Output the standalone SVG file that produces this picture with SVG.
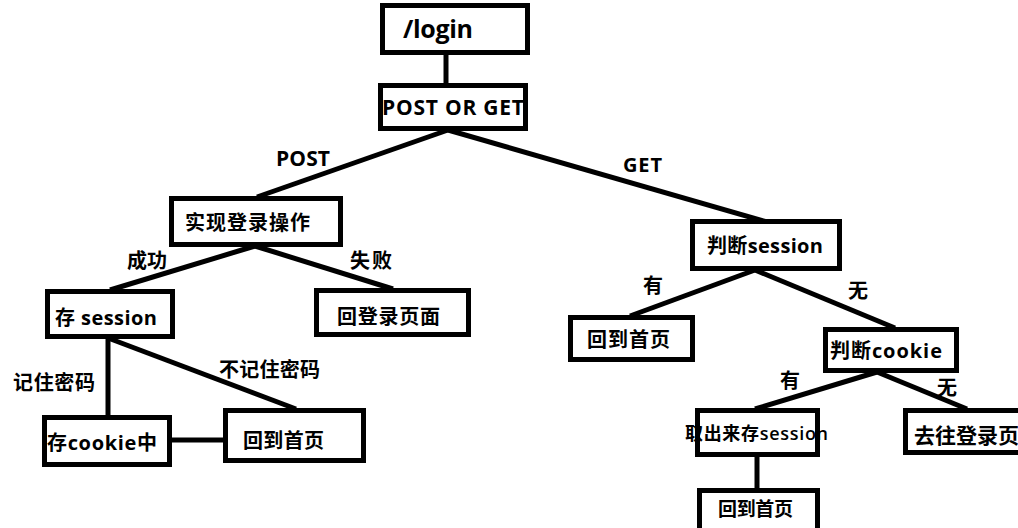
<svg xmlns="http://www.w3.org/2000/svg" width="1018" height="528" viewBox="0 0 1018 528">
<style>
.box{fill:#fff;stroke:#000;stroke-width:5}
.ln{stroke:#000;stroke-width:5;fill:none}
text{font-family:"Open Sans","Noto Sans CJK SC",sans-serif;font-weight:bold;font-size:20px;fill:#000}
.thin{font-weight:600;font-size:18px}
</style>
<rect width="1018" height="528" fill="#fff"/>
<g id="connectors">
<line class="ln" x1="446" y1="54" x2="446" y2="84"/>
<line class="ln" x1="448" y1="130" x2="257" y2="197"/>
<line class="ln" x1="448" y1="130" x2="767" y2="222"/>
<line class="ln" x1="255" y1="246" x2="110" y2="290"/>
<line class="ln" x1="255" y1="246" x2="393" y2="289"/>
<line class="ln" x1="108" y1="338" x2="108" y2="416"/>
<line class="ln" x1="108" y1="338" x2="296" y2="409"/>
<line class="ln" x1="171" y1="440" x2="224" y2="440"/>
<line class="ln" x1="755" y1="270" x2="630" y2="316"/>
<line class="ln" x1="755" y1="270" x2="895" y2="328"/>
<line class="ln" x1="877" y1="372" x2="755" y2="409"/>
<line class="ln" x1="877" y1="372" x2="967" y2="409"/>
<line class="ln" x1="757" y1="456" x2="757" y2="489"/>
</g>
<text x="276" y="166" style="font-size:21px" textLength="54">POST</text>
<text x="623" y="172" textLength="39">GET</text>
<text x="127" y="268" textLength="40">成功</text>
<text x="350" y="268" textLength="42">失败</text>
<text x="13" y="390" textLength="82">记住密码</text>
<text x="219" y="377" textLength="101">不记住密码</text>
<text x="643" y="293">有</text>
<text x="848" y="298">无</text>
<text x="780" y="388">有</text>
<text x="937" y="395">无</text>
<g id="n-login"><rect class="box" x="382.5" y="5.5" width="145" height="47"/><text x="403" y="38" style="font-size:25px" textLength="70">/login</text></g>
<g id="n-postget"><rect class="box" x="380.5" y="85.5" width="145" height="43"/><text x="382" y="115" style="font-size:21px" textLength="142">POST OR GET</text></g>
<g id="n-dologin"><rect class="box" x="171.5" y="198.5" width="169" height="46"/><text x="185" y="230" textLength="125">实现登录操作</text></g>
<g id="n-savesession"><rect class="box" x="47.5" y="291.5" width="125" height="45"/><text x="55" y="325" textLength="102">存 session</text></g>
<g id="n-backlogin"><rect class="box" x="316.5" y="290.5" width="152" height="44"/><text x="337" y="324" textLength="103">回登录页面</text></g>
<g id="n-savecookie"><rect class="box" x="44.5" y="417.5" width="125" height="47"/><text x="47" y="450" textLength="110">存cookie中</text></g>
<g id="n-home1"><rect class="box" x="225.5" y="410.5" width="138" height="50"/><text x="243" y="448" textLength="81">回到首页</text></g>
<g id="n-checksession"><rect class="box" x="692.5" y="221.5" width="147" height="47"/><text x="707" y="253" textLength="116">判断session</text></g>
<g id="n-home2"><rect class="box" x="570.5" y="317.5" width="122" height="42"/><text x="587" y="347" textLength="83">回到首页</text></g>
<g id="n-checkcookie"><rect class="box" x="825.5" y="329.5" width="131" height="41"/><text x="830" y="358" textLength="112">判断cookie</text></g>
<g id="n-takesession"><rect class="box" x="697.5" y="410.5" width="120" height="44"/><text class="thin" x="685" y="440" textLength="143">取出来存session</text></g>
<g id="n-home3"><rect class="box" x="699.5" y="490.5" width="118" height="45"/><text x="718" y="516" style="font-size:19px" textLength="75">回到首页</text></g>
<g id="n-gologin"><rect class="box" x="905.5" y="410.5" width="120" height="42"/><text x="914" y="443" style="font-size:21px">去往登录页</text></g>
</svg>
